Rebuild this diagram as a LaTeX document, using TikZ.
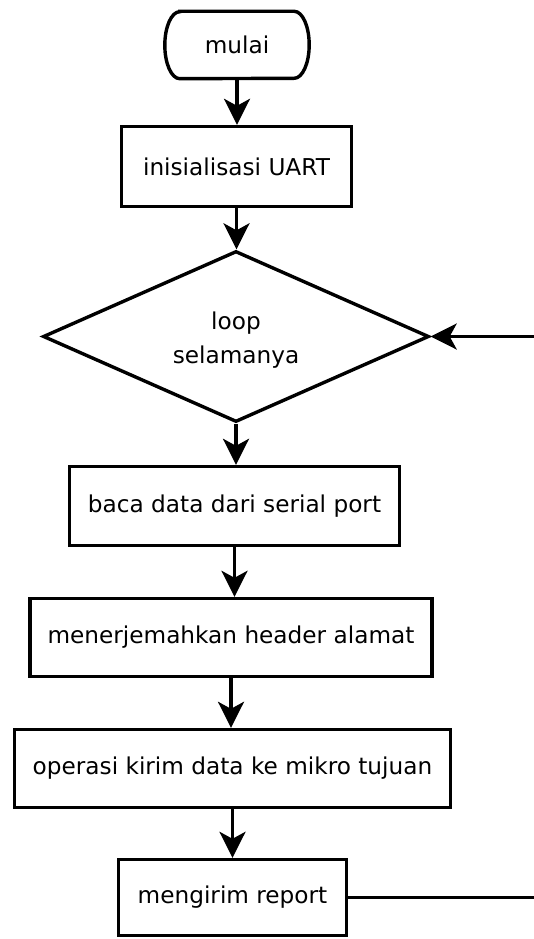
\documentclass[tikz,border=0pt]{standalone}
\usepackage{fontspec}
\setmainfont{DejaVu Sans}
\usetikzlibrary{shapes.geometric,arrows.meta}
\begin{document}
\begin{tikzpicture}[x=1pt,y=-1pt,
  every node/.style={font=\fontsize{23.2}{34}\selectfont, inner sep=0pt},
  procbox/.style={draw, line width=3.4pt, rectangle, align=center},
  decbox/.style={draw, line width=3.4pt, diamond, align=center},
  flow/.style={line width=3.4pt, -{Stealth[length=26pt, width=26pt, inset=7pt]}},
  plain/.style={line width=3.4pt}]
\useasboundingbox (0,0) rectangle (534,939);
% terminator
\node (start) [minimum width=144pt, minimum height=67pt] at (237,45) {mulai};
\draw[line width=3.4pt] ([xshift=15pt]start.north west) -- ([xshift=-15pt]start.north east)
  arc[start angle=90, end angle=-90, x radius=15pt, y radius=33.5pt]
  -- ([xshift=15pt]start.south west)
  arc[start angle=270, end angle=90, x radius=15pt, y radius=33.5pt] -- cycle;
\node (init) [procbox, minimum width=230pt, minimum height=80pt] at (236.5,166.5) {inisialisasi UART};
\node (loop) [decbox, minimum width=386pt, minimum height=171pt] at (236,336.5) {};
\node (looptext) [align=center] at (236,340) {loop\\selamanya};
\node (baca) [procbox, minimum width=330pt, minimum height=79pt] at (234.5,506) {baca data dari serial port};
\node (terj) [procbox, minimum width=402pt, minimum height=78pt] at (231,637.5) {menerjemahkan header alamat};
\node (kirim) [procbox, minimum width=436pt, minimum height=78pt] at (232.5,768.5) {operasi kirim data ke mikro tujuan};
\node (report) [procbox, minimum width=228pt, minimum height=76pt] at (232.5,897.5) {mengirim report};
\coordinate (r1) at (534,897.5);
\coordinate (r2) at (534,336.5);
\draw[flow] (start.south) -- (start.south |- init.north);
\draw[flow] (init.south) -- (init.south |- loop.north);
\draw[flow] (loop.south) -- (loop.south |- baca.north);
\draw[flow] (baca.south) -- (baca.south |- terj.north);
\draw[flow] (terj.south) -- (terj.south |- kirim.north);
\draw[flow] (kirim.south) -- (kirim.south |- report.north);
\draw[plain] (report.east) -- (r1);
\draw[flow] (r2) -- (loop.east);
\end{tikzpicture}
\end{document}
